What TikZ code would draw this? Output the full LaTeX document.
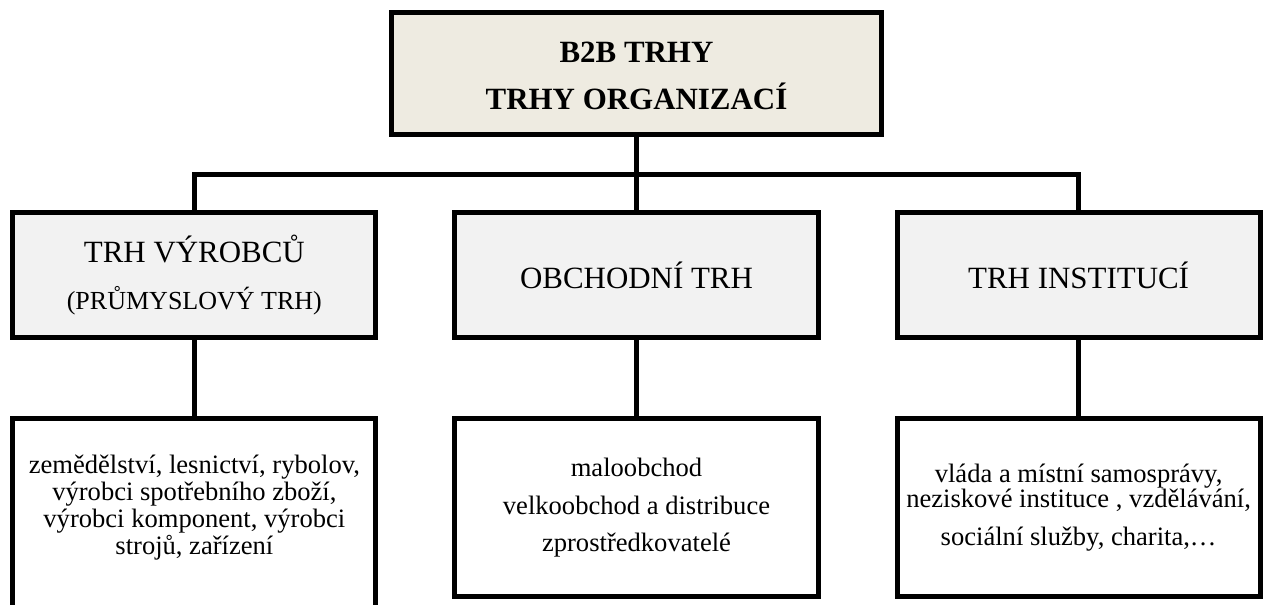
\documentclass[tikz,border=0pt]{standalone}
\usepackage{fontspec}
\setmainfont{Liberation Serif}
\usetikzlibrary{positioning}
\definecolor{topfill}{RGB}{238,235,225}
\definecolor{midfill}{RGB}{242,242,242}
\newcommand\tightlines{\lineskiplimit=-20pt\relax}

\begin{document}
\begin{tikzpicture}[x=0.025cm, y=-0.025cm, node distance=1.95cm and 1.975cm,
    box/.style={draw, line width=3.5pt, align=center, inner sep=0pt,
        outer sep=0pt},
    headbox/.style={box, fill=midfill, minimum width=9.075cm,
        minimum height=3.125cm, font=\fontsize{22}{32}\selectfont},
    listbox/.style={box, fill=white, minimum width=9.075cm,
        minimum height=4.45cm,
        font=\fontsize{18.9}{19}\selectfont\tightlines},
    link/.style={line width=3.5pt}]
\useasboundingbox (0,0) rectangle (1263,605);
\node[box, fill=topfill, minimum width=12.25cm, minimum height=3.05cm,
    font=\bfseries\fontsize{22}{32}\selectfont] (b2b) at (636.5,73.5)
    {\rule{0pt}{18pt}B2B TRHY\\[1pt]TRHY ORGANIZACÍ};
\node[headbox, below=of b2b] (obch) {OBCHODNÍ TRH};
\node[headbox, left=of obch] (vyr)
    {TRH VÝROBCŮ\\[2pt]{\fontsize{18.5}{34}\selectfont(PRŮMYSLOVÝ TRH)}};
\node[headbox, right=of obch] (inst) {TRH INSTITUCÍ};
\coordinate[below=1cm of b2b] (bus);
\node[listbox, draw=none, below=2.025cm of vyr] (vyrl)
    {zemědělství, lesnictví, rybolov,\\výrobci spotřebního zboží,\\
    výrobci komponent, výrobci\\strojů, zařízení};
\node[listbox, below=2.025cm of obch,
    font=\fontsize{18.9}{27}\selectfont] (obchl)
    {maloobchod\\velkoobchod a distribuce\\zprostředkovatelé};
\node[listbox, below=2.025cm of inst,
    font=\fontsize{18.9}{17.8}\selectfont\tightlines] (instl)
    {vláda a místní samosprávy,\\neziskové instituce , vzdělávání,\\[9.2pt]
    sociální služby, charita,\ldots};
\draw[link] ([yshift=-1cm]vyrl.south west) |- (vyrl.north)
    -| ([yshift=-1cm]vyrl.south east);
\draw[link] (b2b) -- (bus);
\draw[link] (vyr.north) |- (bus) -| (inst.north);
\draw[link] (bus) -- (obch);
\draw[link] (vyr) -- (vyrl);
\draw[link] (obch) -- (obchl);
\draw[link] (inst) -- (instl);
\end{tikzpicture}
\end{document}
